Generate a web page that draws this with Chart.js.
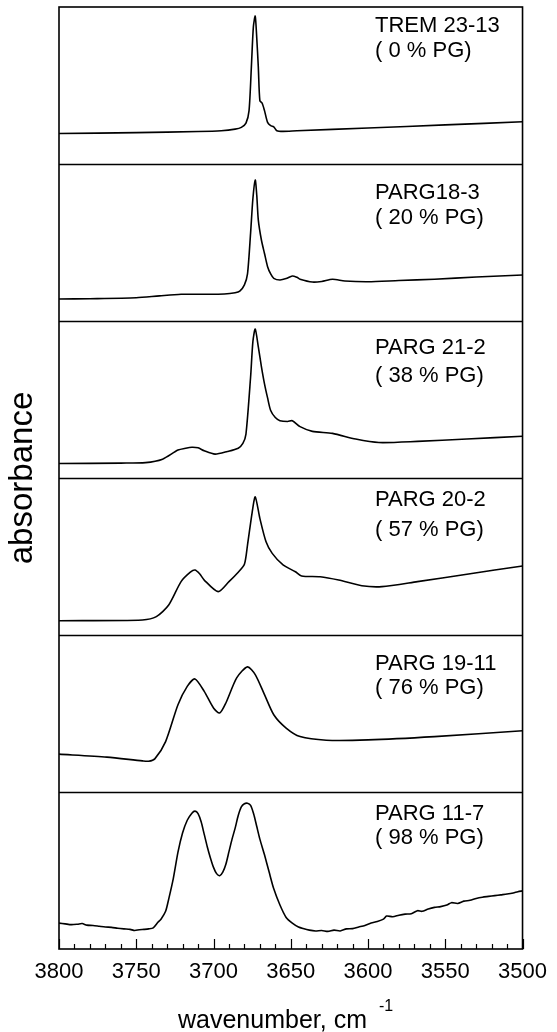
<!DOCTYPE html>
<html><head><meta charset="utf-8">
<script src="https://cdn.jsdelivr.net/npm/chart.js@4.4.1/dist/chart.umd.min.js"></script>
<style>html,body{margin:0;padding:0;background:#fff;}</style>
</head><body>
<canvas id="c" width="557" height="1032"></canvas>
<script>
// ---- data ----
const sampleNames = ["TREM 23-13", "PARG18-3", "PARG 21-2", "PARG 20-2", "PARG 19-11", "PARG 11-7"];
const sampleNotes = ["( 0 % PG)", "( 20 % PG)", "( 38 % PG)", "( 57 % PG)", "( 76 % PG)", "( 98 % PG)"];
const xTickValues = [3800, 3750, 3700, 3650, 3600, 3550, 3500];

const wn1 = [3800, 3750, 3710, 3695, 3686, 3682, 3679, 3677, 3675.5, 3674.2, 3673, 3672, 3671, 3670, 3668.5, 3667, 3665, 3663, 3661, 3659, 3655, 3646, 3600, 3550, 3500];
const abs1 = [0.194, 0.200, 0.207, 0.212, 0.222, 0.233, 0.26, 0.34, 0.617, 0.874, 0.942, 0.80, 0.617, 0.404, 0.387, 0.34, 0.265, 0.244, 0.237, 0.212, 0.208, 0.212, 0.229, 0.249, 0.269];

const wn2 = [3800, 3780, 3750, 3735, 3721, 3705, 3693, 3686, 3683, 3680, 3678, 3676, 3674.5, 3673, 3672, 3671, 3669, 3667, 3665, 3663, 3661, 3657, 3653, 3649, 3646, 3644, 3636, 3630, 3623, 3615, 3600, 3580, 3557, 3530, 3500];
const abs2 = [0.14, 0.142, 0.148, 0.16, 0.17, 0.17, 0.172, 0.18, 0.19, 0.23, 0.30, 0.56, 0.78, 0.898, 0.80, 0.643, 0.516, 0.43, 0.346, 0.30, 0.272, 0.261, 0.27, 0.287, 0.278, 0.266, 0.248, 0.252, 0.266, 0.255, 0.25, 0.258, 0.266, 0.28, 0.293];

const wn3 = [3800, 3760, 3744, 3733, 3723, 3718, 3714, 3710, 3706, 3699, 3691, 3684, 3681, 3679, 3676, 3674.5, 3673, 3671, 3669, 3667, 3665, 3663, 3660, 3657, 3652, 3649, 3644, 3636, 3623, 3608, 3593, 3568, 3536, 3500];
const abs3 = [0.092, 0.095, 0.098, 0.12, 0.178, 0.19, 0.196, 0.192, 0.173, 0.152, 0.169, 0.19, 0.22, 0.28, 0.643, 0.87, 0.949, 0.835, 0.71, 0.60, 0.51, 0.43, 0.385, 0.365, 0.36, 0.365, 0.327, 0.297, 0.284, 0.248, 0.226, 0.233, 0.248, 0.266];

const wn4 = [3800, 3746, 3737, 3729, 3721, 3715, 3712, 3709, 3706, 3697, 3690, 3684, 3680, 3678, 3675, 3673, 3670, 3666, 3662, 3655, 3647, 3643, 3631, 3619, 3604, 3591, 3568, 3536, 3500];
const abs4 = [0.091, 0.096, 0.117, 0.191, 0.34, 0.40, 0.414, 0.39, 0.35, 0.276, 0.34, 0.40, 0.45, 0.573, 0.78, 0.88, 0.743, 0.594, 0.52, 0.446, 0.403, 0.376, 0.371, 0.35, 0.314, 0.308, 0.34, 0.387, 0.44];

const wn5 = [3800, 3769, 3746, 3742, 3738, 3731, 3723, 3717, 3712, 3706, 3700, 3696, 3692, 3685, 3678, 3673, 3667, 3661, 3653, 3644, 3627, 3600, 3557, 3500];
const abs5 = [0.241, 0.222, 0.198, 0.196, 0.211, 0.321, 0.556, 0.673, 0.72, 0.641, 0.535, 0.503, 0.567, 0.727, 0.797, 0.748, 0.62, 0.492, 0.407, 0.353, 0.33, 0.332, 0.353, 0.39];

const wn6 = [3800, 3796, 3792, 3788, 3785, 3782, 3778, 3774, 3770, 3766, 3762, 3758, 3754, 3751, 3748, 3745, 3742, 3739, 3736, 3734, 3731, 3729, 3726, 3723, 3720, 3717, 3714, 3712, 3710, 3708, 3706, 3704, 3702, 3700, 3698, 3696, 3694, 3692, 3690, 3688, 3686, 3684, 3682, 3680, 3678, 3676, 3674, 3672, 3670, 3667, 3664, 3661, 3657, 3653, 3649, 3645, 3642, 3638, 3634, 3630, 3626, 3622, 3618, 3614, 3610, 3606, 3602, 3598, 3594, 3590, 3588, 3584, 3580, 3576, 3572, 3568, 3565, 3561, 3557, 3553, 3549, 3546, 3542, 3538, 3534, 3530, 3526, 3522, 3518, 3514, 3510, 3506, 3503, 3500];
const abs6 = [0.165, 0.16, 0.155, 0.158, 0.162, 0.152, 0.15, 0.145, 0.14, 0.138, 0.132, 0.128, 0.125, 0.118, 0.123, 0.125, 0.128, 0.135, 0.17, 0.19, 0.24, 0.318, 0.45, 0.617, 0.74, 0.82, 0.865, 0.878, 0.862, 0.81, 0.73, 0.65, 0.58, 0.52, 0.48, 0.467, 0.49, 0.54, 0.62, 0.70, 0.77, 0.85, 0.905, 0.925, 0.928, 0.915, 0.86, 0.78, 0.70, 0.60, 0.49, 0.383, 0.28, 0.201, 0.165, 0.14, 0.13, 0.12, 0.115, 0.118, 0.112, 0.12, 0.115, 0.128, 0.13, 0.14, 0.15, 0.165, 0.175, 0.19, 0.21, 0.205, 0.215, 0.222, 0.225, 0.244, 0.24, 0.255, 0.265, 0.27, 0.28, 0.295, 0.29, 0.305, 0.31, 0.322, 0.33, 0.335, 0.34, 0.345, 0.35, 0.357, 0.365, 0.37];

const spectraWn = [wn1, wn2, wn3, wn4, wn5, wn6];
const spectraAbs = [abs1, abs2, abs3, abs4, abs5, abs6];

// ---- layout ----
const FONT = 'Arial, "Liberation Sans", Helvetica, sans-serif';
const nPanels = sampleNames.length;
const labelLine1 = [25, 35, 33, 28, 35, 28];
const labelLine2 = [50, 60, 61, 58, 59, 52];

const datasets = spectraWn.map((w, k) => ({
  label: sampleNames[k],
  data: w.map((x, i) => ({ x: x, y: spectraAbs[k][i] + (nPanels - 1 - k) })),
  borderColor: '#000', borderWidth: 1.6, pointRadius: 0, fill: false, tension: 0.25
}));

const framePlugin = {
  id: 'frame',
  afterDraw(chart) {
    const ctx = chart.ctx, a = chart.chartArea;
    const xs = chart.scales.x, ys = chart.scales.y;
    ctx.save();
    ctx.strokeStyle = '#000'; ctx.lineWidth = 1.6;
    ctx.strokeRect(a.left, a.top, a.right - a.left, a.bottom - a.top);
    for (let k = 1; k < nPanels; k++) {
      const y = Math.round(ys.getPixelForValue(k)) + 0.5;
      ctx.beginPath(); ctx.moveTo(a.left, y); ctx.lineTo(a.right, y); ctx.stroke();
    }
    // inward ticks on the bottom axis
    ctx.lineWidth = 1.2;
    for (let v = xs.min; v <= xs.max; v += 10) {
      const x = Math.round(xs.getPixelForValue(v)) + 0.5;
      const len = (v % 50 === 0) ? 10 : 5;
      ctx.beginPath(); ctx.moveTo(x, a.bottom); ctx.lineTo(x, a.bottom - len); ctx.stroke();
    }
    // sample labels
    ctx.fillStyle = '#000';
    ctx.font = '22px ' + FONT;
    ctx.textAlign = 'left'; ctx.textBaseline = 'alphabetic';
    for (let k = 0; k < nPanels; k++) {
      const top = ys.getPixelForValue(nPanels - k);
      ctx.fillText(sampleNames[k], 375, top + labelLine1[k]);
      ctx.fillText(sampleNotes[k], 375, top + labelLine2[k]);
    }
    // x title with superscript
    const main = 'wavenumber, cm';
    ctx.font = '25px ' + FONT;
    const wMain = ctx.measureText(main).width;
    const x0 = 178;
    ctx.fillText(main, x0, 1028);
    ctx.font = '16px ' + FONT;
    ctx.fillText('-1', x0 + wMain + 12, 1011);
    // y title
    ctx.save();
    ctx.translate(32, (a.top + a.bottom) / 2);
    ctx.rotate(-Math.PI / 2);
    ctx.font = '33px ' + FONT;
    ctx.textAlign = 'center';
    ctx.fillText('absorbance', 0, 0);
    ctx.restore();
    ctx.restore();
  }
};

new Chart(document.getElementById('c'), {
  type: 'line',
  data: { datasets },
  options: {
    responsive: false, animation: false, devicePixelRatio: 1,
    layout: { padding: { top: 7, left: 59, right: 28, bottom: 36.6 } },
    plugins: { legend: { display: false }, tooltip: { enabled: false } },
    scales: {
      x: {
        type: 'linear', reverse: true, min: 3500, max: 3800,
        grid: { display: false, drawTicks: false },
        border: { display: false },
        afterBuildTicks: (s) => { s.ticks = xTickValues.map(v => ({ value: v })); },
        ticks: { color: '#000', font: { size: 22, family: FONT }, padding: 10, maxRotation: 0, autoSkip: false,
                 callback: (v) => String(v) }
      },
      y: { min: 0, max: nPanels, display: false }
    }
  },
  plugins: [framePlugin]
});
</script>
</body></html>
